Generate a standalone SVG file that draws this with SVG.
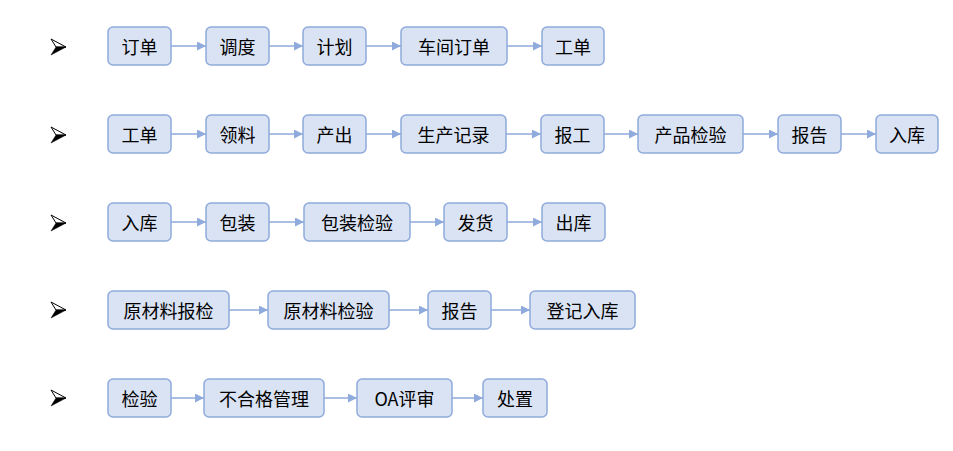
<svg xmlns="http://www.w3.org/2000/svg" width="953" height="451" viewBox="0 0 953 451">
<defs>
<style>
.n rect{fill:#dae3f3;stroke:#8faadc;stroke-width:1.5}
.n text{font-family:"Noto Sans CJK SC","Noto Sans",sans-serif;font-size:18px;fill:#000;text-anchor:middle;dominant-baseline:central}
.c line{stroke:#8faadc;stroke-width:1.5;marker-end:url(#ah)}
.b1{fill:#fff;stroke:#000;stroke-width:1}
.b2{fill:#000;stroke:#000;stroke-width:0.5}
</style>
<marker id="ah" viewBox="0 0 10 10" refX="10" refY="5" markerWidth="6" markerHeight="6" orient="auto" markerUnits="strokeWidth">
<path d="M0,0 L10,5 L0,10 z" fill="#8faadc"/>
</marker>
</defs>
<rect width="953" height="451" fill="#fff"/>
<g id="bullets">
<g transform="translate(0,0)"><polygon class="b1" points="51,39 66,47 56,47"/><polygon class="b2" points="56,47 66,47 51,55"/></g>
<g transform="translate(0,88)"><polygon class="b1" points="51,39 66,47 56,47"/><polygon class="b2" points="56,47 66,47 51,55"/></g>
<g transform="translate(0,176)"><polygon class="b1" points="51,39 66,47 56,47"/><polygon class="b2" points="56,47 66,47 51,55"/></g>
<g transform="translate(0,263)"><polygon class="b1" points="51,39 66,47 56,47"/><polygon class="b2" points="56,47 66,47 51,55"/></g>
<g transform="translate(0,351)"><polygon class="b1" points="51,39 66,47 56,47"/><polygon class="b2" points="56,47 66,47 51,55"/></g>
</g>
<g id="connectors" class="c">
<line x1="171" y1="46" x2="206" y2="46"/>
<line x1="269" y1="46" x2="303" y2="46"/>
<line x1="366" y1="46" x2="401" y2="46"/>
<line x1="507" y1="46" x2="542" y2="46"/>
<line x1="171" y1="134" x2="206" y2="134"/>
<line x1="269" y1="134" x2="303" y2="134"/>
<line x1="366" y1="134" x2="401" y2="134"/>
<line x1="506" y1="134" x2="541" y2="134"/>
<line x1="604" y1="134" x2="638" y2="134"/>
<line x1="743" y1="134" x2="778" y2="134"/>
<line x1="841" y1="134" x2="876" y2="134"/>
<line x1="171" y1="222" x2="206" y2="222"/>
<line x1="269" y1="222" x2="304" y2="222"/>
<line x1="410" y1="222" x2="444" y2="222"/>
<line x1="507" y1="222" x2="542" y2="222"/>
<line x1="229" y1="310" x2="268" y2="310"/>
<line x1="389" y1="310" x2="428" y2="310"/>
<line x1="491" y1="310" x2="530" y2="310"/>
<line x1="171" y1="398" x2="204" y2="398"/>
<line x1="324" y1="398" x2="357" y2="398"/>
<line x1="452" y1="398" x2="483" y2="398"/>
</g>
<g id="r1n1" class="n"><rect x="108" y="27" width="63" height="38" rx="5"/><text x="139.5" y="46">订单</text></g>
<g id="r1n2" class="n"><rect x="206" y="27" width="63" height="38" rx="5"/><text x="237.5" y="46">调度</text></g>
<g id="r1n3" class="n"><rect x="303" y="27" width="63" height="38" rx="5"/><text x="334.5" y="46">计划</text></g>
<g id="r1n4" class="n"><rect x="401" y="27" width="106" height="38" rx="5"/><text x="454" y="46">车间订单</text></g>
<g id="r1n5" class="n"><rect x="542" y="27" width="62" height="38" rx="5"/><text x="573" y="46">工单</text></g>

<g id="r2n1" class="n"><rect x="108" y="115" width="63" height="38" rx="5"/><text x="139.5" y="134">工单</text></g>
<g id="r2n2" class="n"><rect x="206" y="115" width="63" height="38" rx="5"/><text x="237.5" y="134">领料</text></g>
<g id="r2n3" class="n"><rect x="303" y="115" width="63" height="38" rx="5"/><text x="334.5" y="134">产出</text></g>
<g id="r2n4" class="n"><rect x="401" y="115" width="105" height="38" rx="5"/><text x="453.5" y="134">生产记录</text></g>
<g id="r2n5" class="n"><rect x="541" y="115" width="63" height="38" rx="5"/><text x="572.5" y="134">报工</text></g>
<g id="r2n6" class="n"><rect x="638" y="115" width="105" height="38" rx="5"/><text x="690.5" y="134">产品检验</text></g>
<g id="r2n7" class="n"><rect x="778" y="115" width="63" height="38" rx="5"/><text x="809.5" y="134">报告</text></g>
<g id="r2n8" class="n"><rect x="876" y="115" width="62" height="38" rx="5"/><text x="907" y="134">入库</text></g>

<g id="r3n1" class="n"><rect x="108" y="203" width="63" height="38" rx="5"/><text x="139.5" y="222">入库</text></g>
<g id="r3n2" class="n"><rect x="206" y="203" width="63" height="38" rx="5"/><text x="237.5" y="222">包装</text></g>
<g id="r3n3" class="n"><rect x="304" y="203" width="106" height="38" rx="5"/><text x="357" y="222">包装检验</text></g>
<g id="r3n4" class="n"><rect x="444" y="203" width="63" height="38" rx="5"/><text x="475.5" y="222">发货</text></g>
<g id="r3n5" class="n"><rect x="542" y="203" width="63" height="38" rx="5"/><text x="573.5" y="222">出库</text></g>

<g id="r4n1" class="n"><rect x="108" y="291" width="121" height="38" rx="5"/><text x="168.5" y="310">原材料报检</text></g>
<g id="r4n2" class="n"><rect x="268" y="291" width="121" height="38" rx="5"/><text x="328.5" y="310">原材料检验</text></g>
<g id="r4n3" class="n"><rect x="428" y="291" width="63" height="38" rx="5"/><text x="459.5" y="310">报告</text></g>
<g id="r4n4" class="n"><rect x="530" y="291" width="105" height="38" rx="5"/><text x="582.5" y="310">登记入库</text></g>

<g id="r5n1" class="n"><rect x="108" y="379" width="63" height="38" rx="5"/><text x="139.5" y="398">检验</text></g>
<g id="r5n2" class="n"><rect x="204" y="379" width="120" height="38" rx="5"/><text x="264" y="398">不合格管理</text></g>
<g id="r5n3" class="n"><rect x="357" y="379" width="95" height="38" rx="5"/><text x="404.5" y="398">OA评审</text></g>
<g id="r5n4" class="n"><rect x="483" y="379" width="64" height="38" rx="5"/><text x="515" y="398">处置</text></g>
</svg>
